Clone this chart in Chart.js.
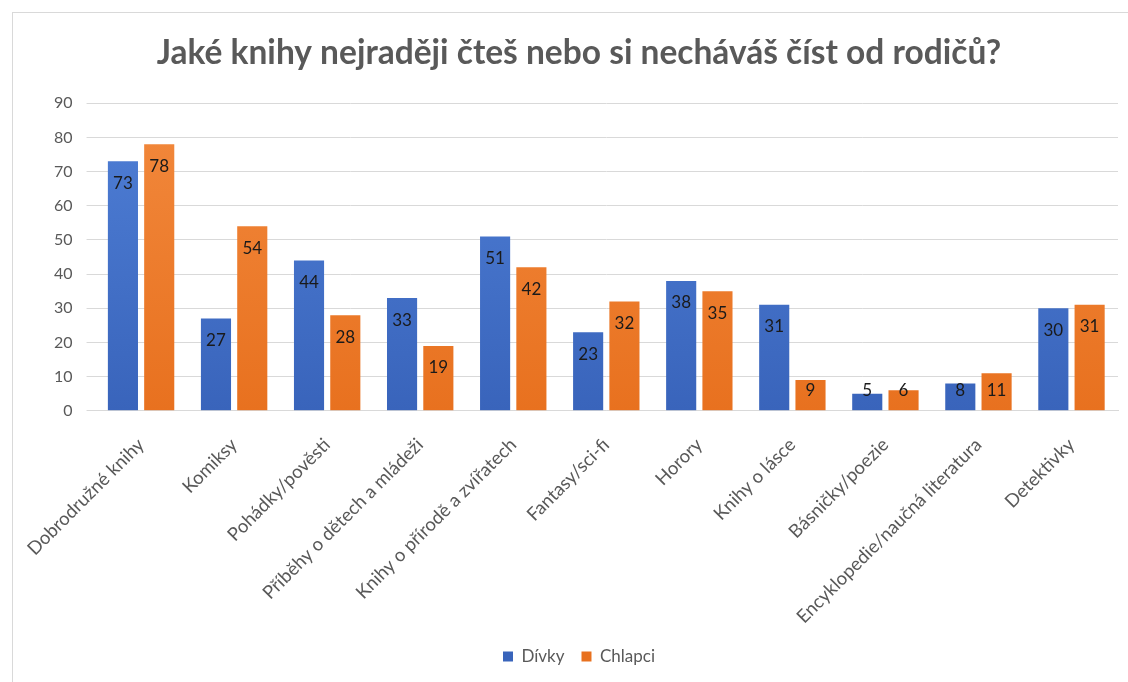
<!DOCTYPE html>
<html>
<head>
<meta charset="utf-8">
<script src="https://cdn.jsdelivr.net/npm/chart.js"></script>
<style>
  body { margin: 0; background: #fff; }
  #frame { position: absolute; left: 12px; top: 12px; width: 1120px; height: 674px; border: 1px solid #d9d9d9; box-sizing: border-box; }
  #wrap { position: absolute; left: 0; top: 0; width: 1128px; height: 682px; }
</style>
</head>
<body>
<div id="frame"></div>
<div id="wrap"><canvas id="chart" width="1128" height="682"></canvas></div>
<script>
// data
const categories = ['Dobrodružné knihy', 'Komiksy', 'Pohádky/pověsti', 'Příběhy o dětech a mládeži',
  'Knihy o přírodě a zvířatech', 'Fantasy/sci-fi', 'Horory', 'Knihy o lásce',
  'Básničky/poezie', 'Encyklopedie/naučná literatura', 'Detektivky'];
const divky = [73, 27, 44, 33, 51, 23, 38, 31, 5, 8, 30];
const chlapci = [78, 54, 28, 19, 42, 32, 35, 9, 6, 11, 31];
const yTicks = [0, 10, 20, 30, 40, 50, 60, 70, 80, 90];

const textGray = '#595959';
const fontName = 'Lato, "Open Sans", sans-serif';

function grad(ctx, top, bottom) {
  const chart = ctx.chart;
  const area = chart.chartArea;
  if (!area) return top;
  const g = chart.ctx.createLinearGradient(0, area.top, 0, area.bottom);
  g.addColorStop(0, top);
  g.addColorStop(1, bottom);
  return g;
}

// labels inside the bar end, like excel does
const barLabels = {
  id: 'barLabels',
  afterDatasetsDraw(chart) {
    const ctx = chart.ctx;
    const base = chart.scales.y.getPixelForValue(0);
    ctx.save();
    ctx.font = '17px ' + fontName;
    ctx.fillStyle = '#1a1a1a';
    ctx.textAlign = 'center';
    ctx.textBaseline = 'middle';
    chart.data.datasets.forEach((ds, i) => {
      chart.getDatasetMeta(i).data.forEach((bar, j) => {
        let y = Math.min(bar.y + 22, base - 20);
        ctx.fillText(ds.data[j], bar.x, y);
      });
    });
    ctx.restore();
  }
};

new Chart(document.getElementById('chart'), {
  type: 'bar',
  data: {
    labels: categories,
    datasets: [
      {
        label: 'Dívky',
        data: divky,
        backgroundColor: (c) => grad(c, '#4f7fd6', '#3964bb'),
        borderWidth: 0
      },
      {
        label: 'Chlapci',
        data: chlapci,
        backgroundColor: (c) => grad(c, '#f2893d', '#e8711f'),
        borderWidth: 0
      }
    ]
  },
  options: {
    responsive: false,
    animation: false,
    layout: { padding: { left: 40, right: 10, top: 33, bottom: 7 } },
    datasets: { bar: { categoryPercentage: 0.78, barPercentage: 0.83 } },
    plugins: {
      title: {
        display: true,
        text: 'Jaké knihy nejraději čteš nebo si necháváš číst od rodičů?',
        color: textGray,
        font: { family: fontName, size: 33.5, weight: 'bold' },
        padding: { top: 0, bottom: 30 }
      },
      legend: {
        position: 'bottom',
        labels: {
          color: textGray,
          font: { family: fontName, size: 17 },
          boxWidth: 10, boxHeight: 10, padding: 17
        }
      },
      tooltip: { enabled: false }
    },
    scales: {
      x: {
        grid: { display: false },
        border: { color: '#d9d9d9' },
        afterFit: (s) => { s.height -= 12; },
        ticks: {
          color: textGray,
          font: { family: fontName, size: 18.5 },
          maxRotation: 45, minRotation: 45, padding: 15
        }
      },
      y: {
        min: 0, max: 90,
        afterBuildTicks: (axis) => { axis.ticks = yTicks.map(v => ({ value: v })); },
        grid: { color: '#d9d9d9' },
        border: { display: false },
        ticks: {
          color: textGray,
          font: { family: fontName, size: 16 },
          padding: 14
        }
      }
    }
  },
  plugins: [barLabels]
});
</script>
</body>
</html>
